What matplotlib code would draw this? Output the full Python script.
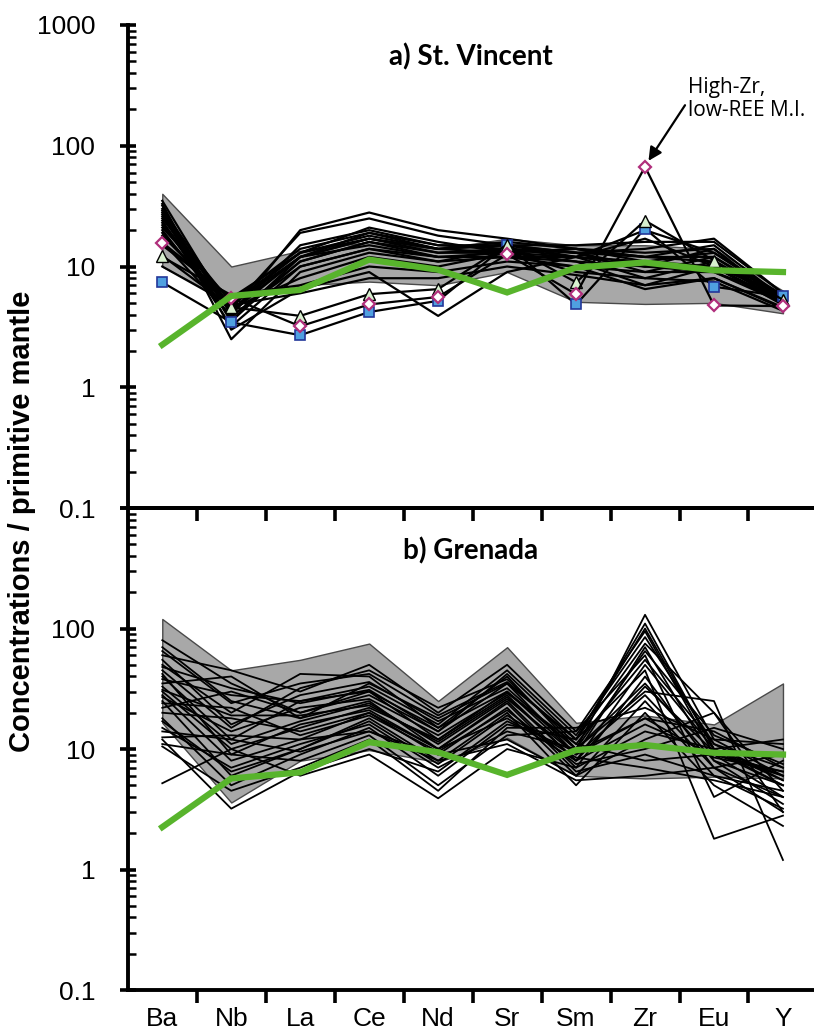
import numpy as np
import matplotlib
matplotlib.use("Agg")
import matplotlib.pyplot as plt
from matplotlib.ticker import LogLocator, FixedLocator, NullFormatter

elements = ["Ba", "Nb", "La", "Ce", "Nd", "Sr", "Sm", "Zr", "Eu", "Y"]

# reference composition (green line), same in both panels
green_ref = [2.25, 5.7, 6.4, 11.4, 9.4, 6.1, 9.8, 10.8, 9.3, 9.0]

# a) St. Vincent: grey envelope
sv_upper = [40, 10, 13.5, 16, 14, 17, 15, 15, 14, 6.3]
sv_lower = [10, 5.0, 7.0, 7.5, 7.0, 9.0, 5.1, 4.9, 5.0, 4.1]

# a) St. Vincent: melt inclusions (black lines)
sv_lines = [
    [35, 4.0, 20, 28, 20, 17, 14, 12, 15, 5.5],
    [30, 4.5, 19, 25, 18, 15, 13, 10, 14, 5.0],
    [28, 3.5, 12, 19, 15, 14, 13, 9, 12, 5.2],
    [25, 5.0, 13, 18, 14, 13, 14, 11, 13, 5.8],
    [22, 4.2, 12, 17, 13, 14, 12, 8, 11, 5.0],
    [20, 3.8, 11, 16, 12, 13, 11, 7, 10, 4.8],
    [18, 4.8, 12, 15, 12, 12, 12, 10, 9, 5.5],
    [24, 3.2, 10, 14, 11, 12, 10, 6.5, 8, 4.5],
    [32, 2.5, 9, 13, 11, 14, 13, 14, 17, 6.0],
    [15, 5.5, 13, 17, 14, 15, 15, 16, 16, 6.0],
    [27, 4.5, 8, 12, 10, 13, 9, 8, 7.5, 4.3],
    [21, 5.2, 14, 19, 14, 16, 14, 12, 11, 5.3],
    [12, 5.8, 7, 10, 9, 11, 10, 9, 9, 5.0],
    [10, 4.8, 6, 8, 8, 10, 8.5, 7, 8, 4.6],
    [29, 4.0, 15, 20, 15, 15, 12, 20, 13, 5.5],
    [26, 3.6, 11, 16, 13, 13, 12, 11, 10, 5.1],
    [19, 4.4, 12, 17, 14, 15, 13, 12, 12, 5.6],
    [33, 3.0, 6.5, 9, 3.9, 9, 12, 17, 10, 5.8],
    [23, 4.7, 13, 21, 16, 13, 14, 13, 14, 5.2],
    [16, 3.9, 10, 14, 12, 12, 11, 10, 10, 4.9],
]

# a) St. Vincent: highlighted inclusions
sv_square = [7.4, 3.45, 2.7, 4.2, 5.2, 15.2, 4.85, 20.6, 6.8, 5.65]
sv_diamond = [15.8, 5.5, 3.2, 4.85, 5.6, 12.6, 5.9, 67, 4.76, 4.7]
sv_triangle = [12.3, 4.6, 3.9, 5.9, 6.5, 15.2, 7.4, 24, 11.2, 5.3]

# b) Grenada: grey envelope
gr_upper = [120, 45, 55, 75, 25, 70, 16.5, 19, 16, 35]
gr_lower = [16.5, 3.6, 8.0, 9.8, 7.8, 12.4, 6.0, 5.7, 5.9, 5.7]

# b) Grenada: melt inclusions
gr_lines = [
    [80, 35, 20, 30, 15, 40, 10, 130, 12, 6],
    [70, 25, 18, 35, 18, 35, 12, 110, 10, 5],
    [60, 45, 30, 50, 20, 50, 14, 95, 9, 4],
    [50, 20, 42, 40, 15, 30, 9, 70, 8, 3.5],
    [45, 15, 32, 45, 22, 38, 11, 55, 11, 7],
    [40, 12, 25, 30, 12, 28, 8, 50, 10, 5.5],
    [35, 40, 18, 25, 10, 25, 7, 40, 7, 3],
    [30, 10, 15, 22, 12, 30, 10, 30, 25, 1.2],
    [28, 8, 12, 20, 9, 22, 6, 25, 6, 4.5],
    [25, 6, 10, 18, 8, 20, 5, 20, 5, 2.3],
    [22, 30, 20, 28, 14, 35, 9, 18, 14, 7],
    [20, 18, 14, 20, 10, 18, 8, 16, 9, 6],
    [18, 5, 9, 15, 6, 16, 12, 45, 1.8, 2.8],
    [15, 7, 11, 16, 7, 14, 10, 35, 8, 5],
    [12.5, 13, 12, 14, 9, 12, 6, 12, 20, 3],
    [11, 9, 8, 13, 5, 13, 14, 60, 4, 8],
    [10.5, 4.5, 7, 12, 4.5, 15, 15, 22, 12, 11],
    [5.2, 10, 6, 9, 3.9, 10, 7, 14, 10, 12],
    [38, 28, 25, 33, 16, 45, 13, 85, 11, 5.5],
    [33, 11, 17, 24, 11, 26, 9, 28, 7, 4],
    [27, 14, 22, 26, 13, 29, 11, 8, 9, 6.5],
    [24, 22, 13, 19, 9.5, 21, 7.5, 10, 15, 10],
    [55, 16, 28, 36, 17, 32, 10, 65, 13, 7.5],
    [42, 9, 16, 21, 10, 24, 6.5, 9, 6, 3.2],
    [17, 6.5, 10, 17, 7.5, 19, 8.5, 7, 5.5, 4],
    [65, 24, 35, 42, 19, 36, 12, 100, 10, 6],
    [14, 12, 9.5, 14, 8, 11, 5.5, 6, 7, 9],
    [12, 3.2, 6.5, 10, 6.5, 17, 9.5, 18, 8.5, 6.5],
    [48, 32, 24, 31, 14, 42, 12, 75, 20, 4.5],
    [31, 19, 19, 23, 11.5, 27, 8, 33, 9.5, 5],
]

GREEN = "#58b42c"
x = np.arange(len(elements))
tick_font = ["Liberation Sans", "DejaVu Sans"]

fig = plt.figure(figsize=(8.14, 10.33), dpi=100)
ax1 = fig.add_axes([0.157, 0.5082, 0.843, 0.4676])
ax2 = fig.add_axes([0.157, 0.0416, 0.843, 0.4666])
ax2.set_facecolor("none")


def style_axis(ax):
    ax.set_yscale("log")
    ax.set_ylim(0.1, 1000)
    ax.set_xlim(-0.5, 9.45)
    ax.yaxis.set_major_locator(FixedLocator([0.1, 1, 10, 100, 1000]))
    ax.yaxis.set_minor_locator(LogLocator(base=10, subs=np.arange(2, 10)))
    ax.yaxis.set_minor_formatter(NullFormatter())
    ax.tick_params(axis="y", which="major", direction="inout", length=11,
                   width=2.6, pad=18, labelsize=19)
    ax.tick_params(axis="y", which="minor", direction="in", length=6, width=1.8)
    for lab in ax.get_yticklabels():
        lab.set_family(tick_font)
    ax.spines["right"].set_visible(False)
    for s in ["left", "bottom", "top"]:
        ax.spines[s].set_linewidth(2.8)


def draw_panel(ax, upper, lower, lines, lw):
    ax.fill_between(x, lower, upper, color="#a8a8a8", edgecolor="#4a4a4a",
                    linewidth=1.0, zorder=1)
    for row in lines:
        ax.plot(x, row, color="black", lw=lw, zorder=2)
    ax.plot(x, green_ref, color=GREEN, lw=4.5, zorder=4, solid_joinstyle="miter")


# ---- a) St. Vincent
style_axis(ax1)
draw_panel(ax1, sv_upper, sv_lower, sv_lines, 1.6)
ax1.plot(x, sv_square, color="black", lw=1.6, zorder=3, marker="s", ms=7,
         mfc="#4fa0e0", mec="#23379a", mew=1.2)
ax1.plot(x, sv_triangle, color="black", lw=1.6, zorder=3, marker="^", ms=8,
         mfc="#d8f0cf", mec="black", mew=1.0)
ax1.plot(x, sv_diamond, color="black", lw=1.6, zorder=3, marker="D", ms=6,
         mfc="white", mec="#b02f7c", mew=1.6)
ax1.spines["top"].set_visible(False)
ax1.set_yticklabels(["0.1", "1", "10", "100", "1000"])
ax1.set_xticks([])
ax1.set_xticks(np.arange(0.5, 9, 1), minor=True)
ax1.tick_params(axis="x", which="minor", direction="out", length=9, width=2.6,
                bottom=True, labelbottom=False)
ax1.set_title("a) St. Vincent", fontsize=20, fontweight="bold", family="Lato",
              y=0.898)
ax1.annotate("High-Zr,\nlow-REE M.I.", xy=(7.05, 75), xytext=(7.62, 245),
             fontsize=15, family="Open Sans", ha="left", va="center",
             linespacing=1.15,
             arrowprops=dict(arrowstyle="-|>", color="black", lw=1.6,
                             mutation_scale=20, shrinkA=0, shrinkB=0,
                             relpos=(0.0, 0.45)))

# ---- b) Grenada
style_axis(ax2)
draw_panel(ax2, gr_upper, gr_lower, gr_lines, 1.3)
ax2.set_yticklabels(["0.1", "1", "10", "100", ""])
ax2.set_xticks(x)
ax2.set_xticklabels(elements, family=tick_font, fontsize=19)
ax2.tick_params(axis="x", which="major", length=0, pad=12)
ax2.set_xticks(np.arange(0.5, 9, 1), minor=True)
ax2.tick_params(axis="x", which="minor", direction="out", length=9, width=2.6)
ax2.set_title("b) Grenada", fontsize=20, fontweight="bold", family="Lato",
              y=0.876)

fig.text(0.027, 0.495, "Concentrations / primitive mantle", rotation=90,
         ha="center", va="center", fontsize=21, fontweight="bold",
         family=tick_font)

fig.savefig("out.png", dpi=100)
